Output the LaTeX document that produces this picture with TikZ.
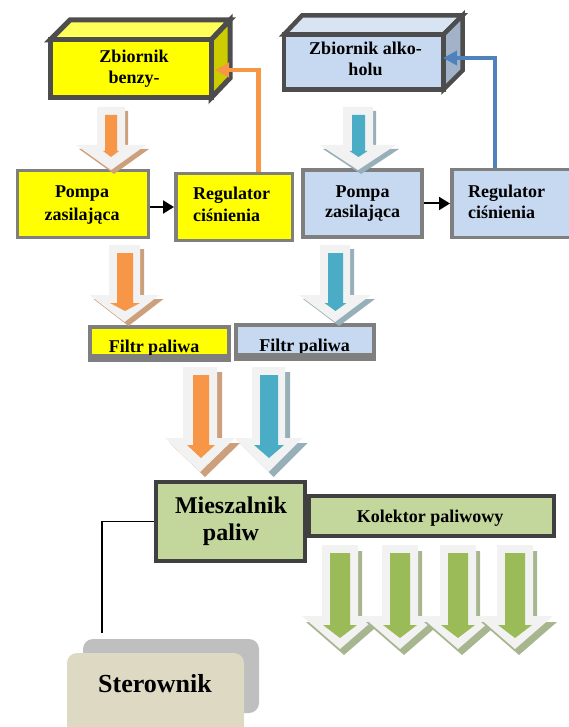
\documentclass[tikz,border=0pt]{standalone}
\usepackage{fontspec}
\setmainfont{Liberation Serif}
\usetikzlibrary{arrows.meta}
\definecolor{ylw}{HTML}{FFFF00}
\definecolor{ylwtop}{HTML}{FFFF59}
\definecolor{ylwside}{HTML}{CCCC00}
\definecolor{lblue}{HTML}{C6D9F1}
\definecolor{lbluetop}{HTML}{D9E4F2}
\definecolor{lblueside}{HTML}{A2B3C9}
\definecolor{dkbord}{HTML}{4D4D4D}
\definecolor{gybord}{HTML}{7F7F7F}
\definecolor{mixbord}{HTML}{404040}
\definecolor{lgreen}{HTML}{C3D69B}
\definecolor{sterf}{HTML}{DDD9C3}
\definecolor{sters}{HTML}{BFBFBF}
\definecolor{orng}{HTML}{F79646}
\definecolor{orngsh}{HTML}{CDA07D}
\definecolor{teal}{HTML}{4BACC6}
\definecolor{tealsh}{HTML}{96AFB9}
\definecolor{grn}{HTML}{9BBB59}
\definecolor{grnsh}{HTML}{A8B68F}
\definecolor{pale}{HTML}{F2F2F2}
\definecolor{bconn}{HTML}{4F81BD}
% arrow outline: cx, top, head base, tip, shaft half width, head half width
\def\AS#1#2#3#4#5#6{(#1-#5,#2) -- (#1+#5,#2) -- (#1+#5,#3) -- (#1+#6,#3) -- (#1,#4) -- (#1-#6,#3) -- (#1-#5,#3) -- cycle}
\tikzset{
  lbl/.style={font=\fontsize{18}{21}\selectfont\bfseries, inner sep=0pt, anchor=base},
  graybox/.style={draw=gybord, line width=3.5pt, inner sep=0pt},
  tankface/.style={draw=dkbord, line width=5pt, line join=miter},
  mixbox/.style={draw=mixbord, line width=4pt, fill=lgreen, inner sep=0pt},
  blkarrow/.style={line width=2pt, -{Triangle[length=11pt,width=13pt]}},
  fbconn/.style={line width=4.5pt, -{Triangle[length=14pt,width=14pt]}},
}
\begin{document}
\begin{tikzpicture}[x=1pt,y=-1pt]
\useasboundingbox (0,0) rectangle (569,727);

% ---------- tanks ----------
\filldraw[tankface, fill=ylwtop] (50,40) -- (70,20) -- (230,20) -- (211,40) -- cycle;
\filldraw[tankface, fill=ylwside] (211,40) -- (230,20) -- (230,78) -- (211,98) -- cycle;
\node[tankface, fill=ylw, minimum width=161pt, minimum height=58pt, inner sep=0pt] (zb1) at (130.5,69) {};
\node[lbl] (zb1t) at (134,63) {\begin{tabular}[t]{@{}c@{}}Zbiornik\\benzy-\end{tabular}};
\coordinate (zb1in) at (215,70);

\filldraw[tankface, line width=4.5pt, fill=lbluetop] (284,34.5) -- (302,15.5) -- (462.5,15.5) -- (443.5,34.5) -- cycle;
\filldraw[tankface, line width=4.5pt, fill=lblueside] (443.5,34.5) -- (462.5,15.5) -- (462.5,70.5) -- (443.5,89.5) -- cycle;
\node[tankface, line width=4.5pt, fill=lblue, minimum width=159.5pt, minimum height=55pt, inner sep=0pt] (zb2) at (363.75,62) {};
\node[lbl] (zb2t) at (365.5,55) {\begin{tabular}[t]{@{}c@{}}Zbiornik alko-\\holu\end{tabular}};
\coordinate (zb2in) at (443,58);

% ---------- pumps and regulators ----------
\node[graybox, fill=ylw, minimum width=131pt, minimum height=66.5pt] (pompa1) at (82.9,204) {};
\node[lbl, font=\fontsize{18}{22}\selectfont\bfseries] (pompa1t) at (82,198) {\begin{tabular}[t]{@{}c@{}}Pompa\\zasilająca\end{tabular}};
\node[graybox, fill=ylw, minimum width=116.5pt, minimum height=66.5pt] (reg1) at (234,207) {};
\node[lbl, anchor=base west, font=\fontsize{18}{22}\selectfont\bfseries] (reg1t) at (193,200) {\begin{tabular}[t]{@{}l@{}}Regulator\\ciśnienia\end{tabular}};

\node[graybox, fill=lblue, minimum width=119pt, minimum height=67pt] (pompa2) at (362.5,203.5) {};
\node[lbl, font=\fontsize{18}{20}\selectfont\bfseries] (pompa2t) at (362.5,198) {\begin{tabular}[t]{@{}c@{}}Pompa\\zasilająca\end{tabular}};
\node[graybox, fill=lblue, minimum width=121.5pt, minimum height=67.5pt] (reg2) at (512.5,203.5) {};
\node[lbl, anchor=base west] (reg2t) at (468,197) {\begin{tabular}[t]{@{}l@{}}Regulator\\ciśnienia\end{tabular}};

\draw[blkarrow] (reg1.west -| pompa1.east) -- (reg1.west);
\draw[blkarrow] (reg2.west -| pompa2.east) -- (reg2.west);

\draw[fbconn, draw=orng] ([xshift=24.5pt]reg1.north) |- (zb1in);
\draw[fbconn, draw=bconn] ([xshift=-17.5pt]reg2.north) |- (zb2in);

% ---------- filters ----------
\node[fill=gybord, minimum width=143pt, minimum height=37pt, inner sep=0pt] (filtr1) at (159.5,343.5) {};
\fill[ylw] (92,329) rectangle (227,354);
\begin{scope}
  \clip (92,329) rectangle (227,354);
  \node[lbl] (filtr1t) at (154,352) {Filtr paliwa};
\end{scope}
\node[fill=gybord, minimum width=142pt, minimum height=38pt, inner sep=0pt] (filtr2) at (305,342) {};
\fill[lblue] (238,327) rectangle (372,352.5);
\begin{scope}
  \clip (238,327) rectangle (372,352.5);
  \node[lbl] (filtr2t) at (304.5,351) {Filtr paliwa};
\end{scope}

% ---------- block arrows ----------
% A1 orange (tank -> pump)
\fill[orngsh, shift={(3,4)}] \AS{111}{107}{145}{170}{14}{35};
\fill[pale] \AS{111}{107}{145}{170}{14}{35};
\fill[orng] \AS{111}{115}{151}{157}{6}{8};
% A2 teal
\fill[tealsh, shift={(3,4)}] \AS{358}{107}{145}{170}{15}{38};
\fill[pale] \AS{358}{107}{145}{170}{15}{38};
\fill[teal] \AS{358.5}{115}{151}{157}{6.5}{9};
% A3 orange (pump -> filter)
\fill[orngsh, shift={(4,4)}] \AS{124.5}{245}{295}{322}{15.5}{35};
\fill[pale] \AS{124.5}{245}{295}{322}{15.5}{35};
\fill[orng] \AS{125}{253}{303}{311}{8}{15};
% A4 teal
\fill[tealsh, shift={(4,4)}] \AS{335}{245}{295}{322}{15}{36};
\fill[pale] \AS{335}{245}{295}{322}{15}{36};
\fill[teal] \AS{335.5}{253}{303}{311}{7.5}{11};
% A5 orange (filter -> mixer)
\fill[orngsh, shift={(5,5)}] \AS{200}{367}{438}{472}{17}{35};
\fill[pale] \AS{200}{367}{438}{472}{17}{35};
\fill[orng] \AS{201}{375}{445}{458}{8}{14};
% A6 teal
\fill[tealsh, shift={(5,5)}] \AS{268.5}{367}{438}{472}{16.5}{34};
\fill[pale] \AS{268.5}{367}{438}{472}{16.5}{34};
\fill[teal] \AS{269}{375}{445}{458}{9}{15};

% ---------- mixer and collector ----------
\node[mixbox, minimum width=245pt, minimum height=40pt] (kol) at (431.5,516) {};
\node[lbl] (kolt) at (430,522) {Kolektor paliwowy};
\node[mixbox, minimum width=149pt, minimum height=79pt] (mix) at (230.5,521.5) {};
\node[lbl, font=\fontsize{24}{27}\selectfont\bfseries] (mixt) at (231,513) {\begin{tabular}[t]{@{}c@{}}Mieszalnik\\paliw\end{tabular}};

% green output arrows
\foreach \cx in {340,400,458,515}{
  \fill[grnsh, shift={(4,6)}] \AS{\cx}{545}{616}{649}{18}{38};
  \fill[pale] \AS{\cx}{545}{616}{649}{18}{38};
  \fill[grn] \AS{\cx}{553}{625}{638}{10}{17};
}

% ---------- controller ----------
\node[fill=sters, rounded corners=10pt, minimum width=176pt, minimum height=74pt, inner sep=0pt] (stersh) at (171,676) {};
\node[fill=sterf, rounded corners=10pt, minimum width=177pt, minimum height=90pt, inner sep=0pt] (ster) at (155.5,698) {};
\node[lbl, font=\fontsize{26}{30}\selectfont\bfseries] (stert) at (155,692) {Sterownik};
\coordinate (sterin) at (102,633);
\draw[line width=1.5pt] (mix.west) -| (sterin);
\end{tikzpicture}
\end{document}
